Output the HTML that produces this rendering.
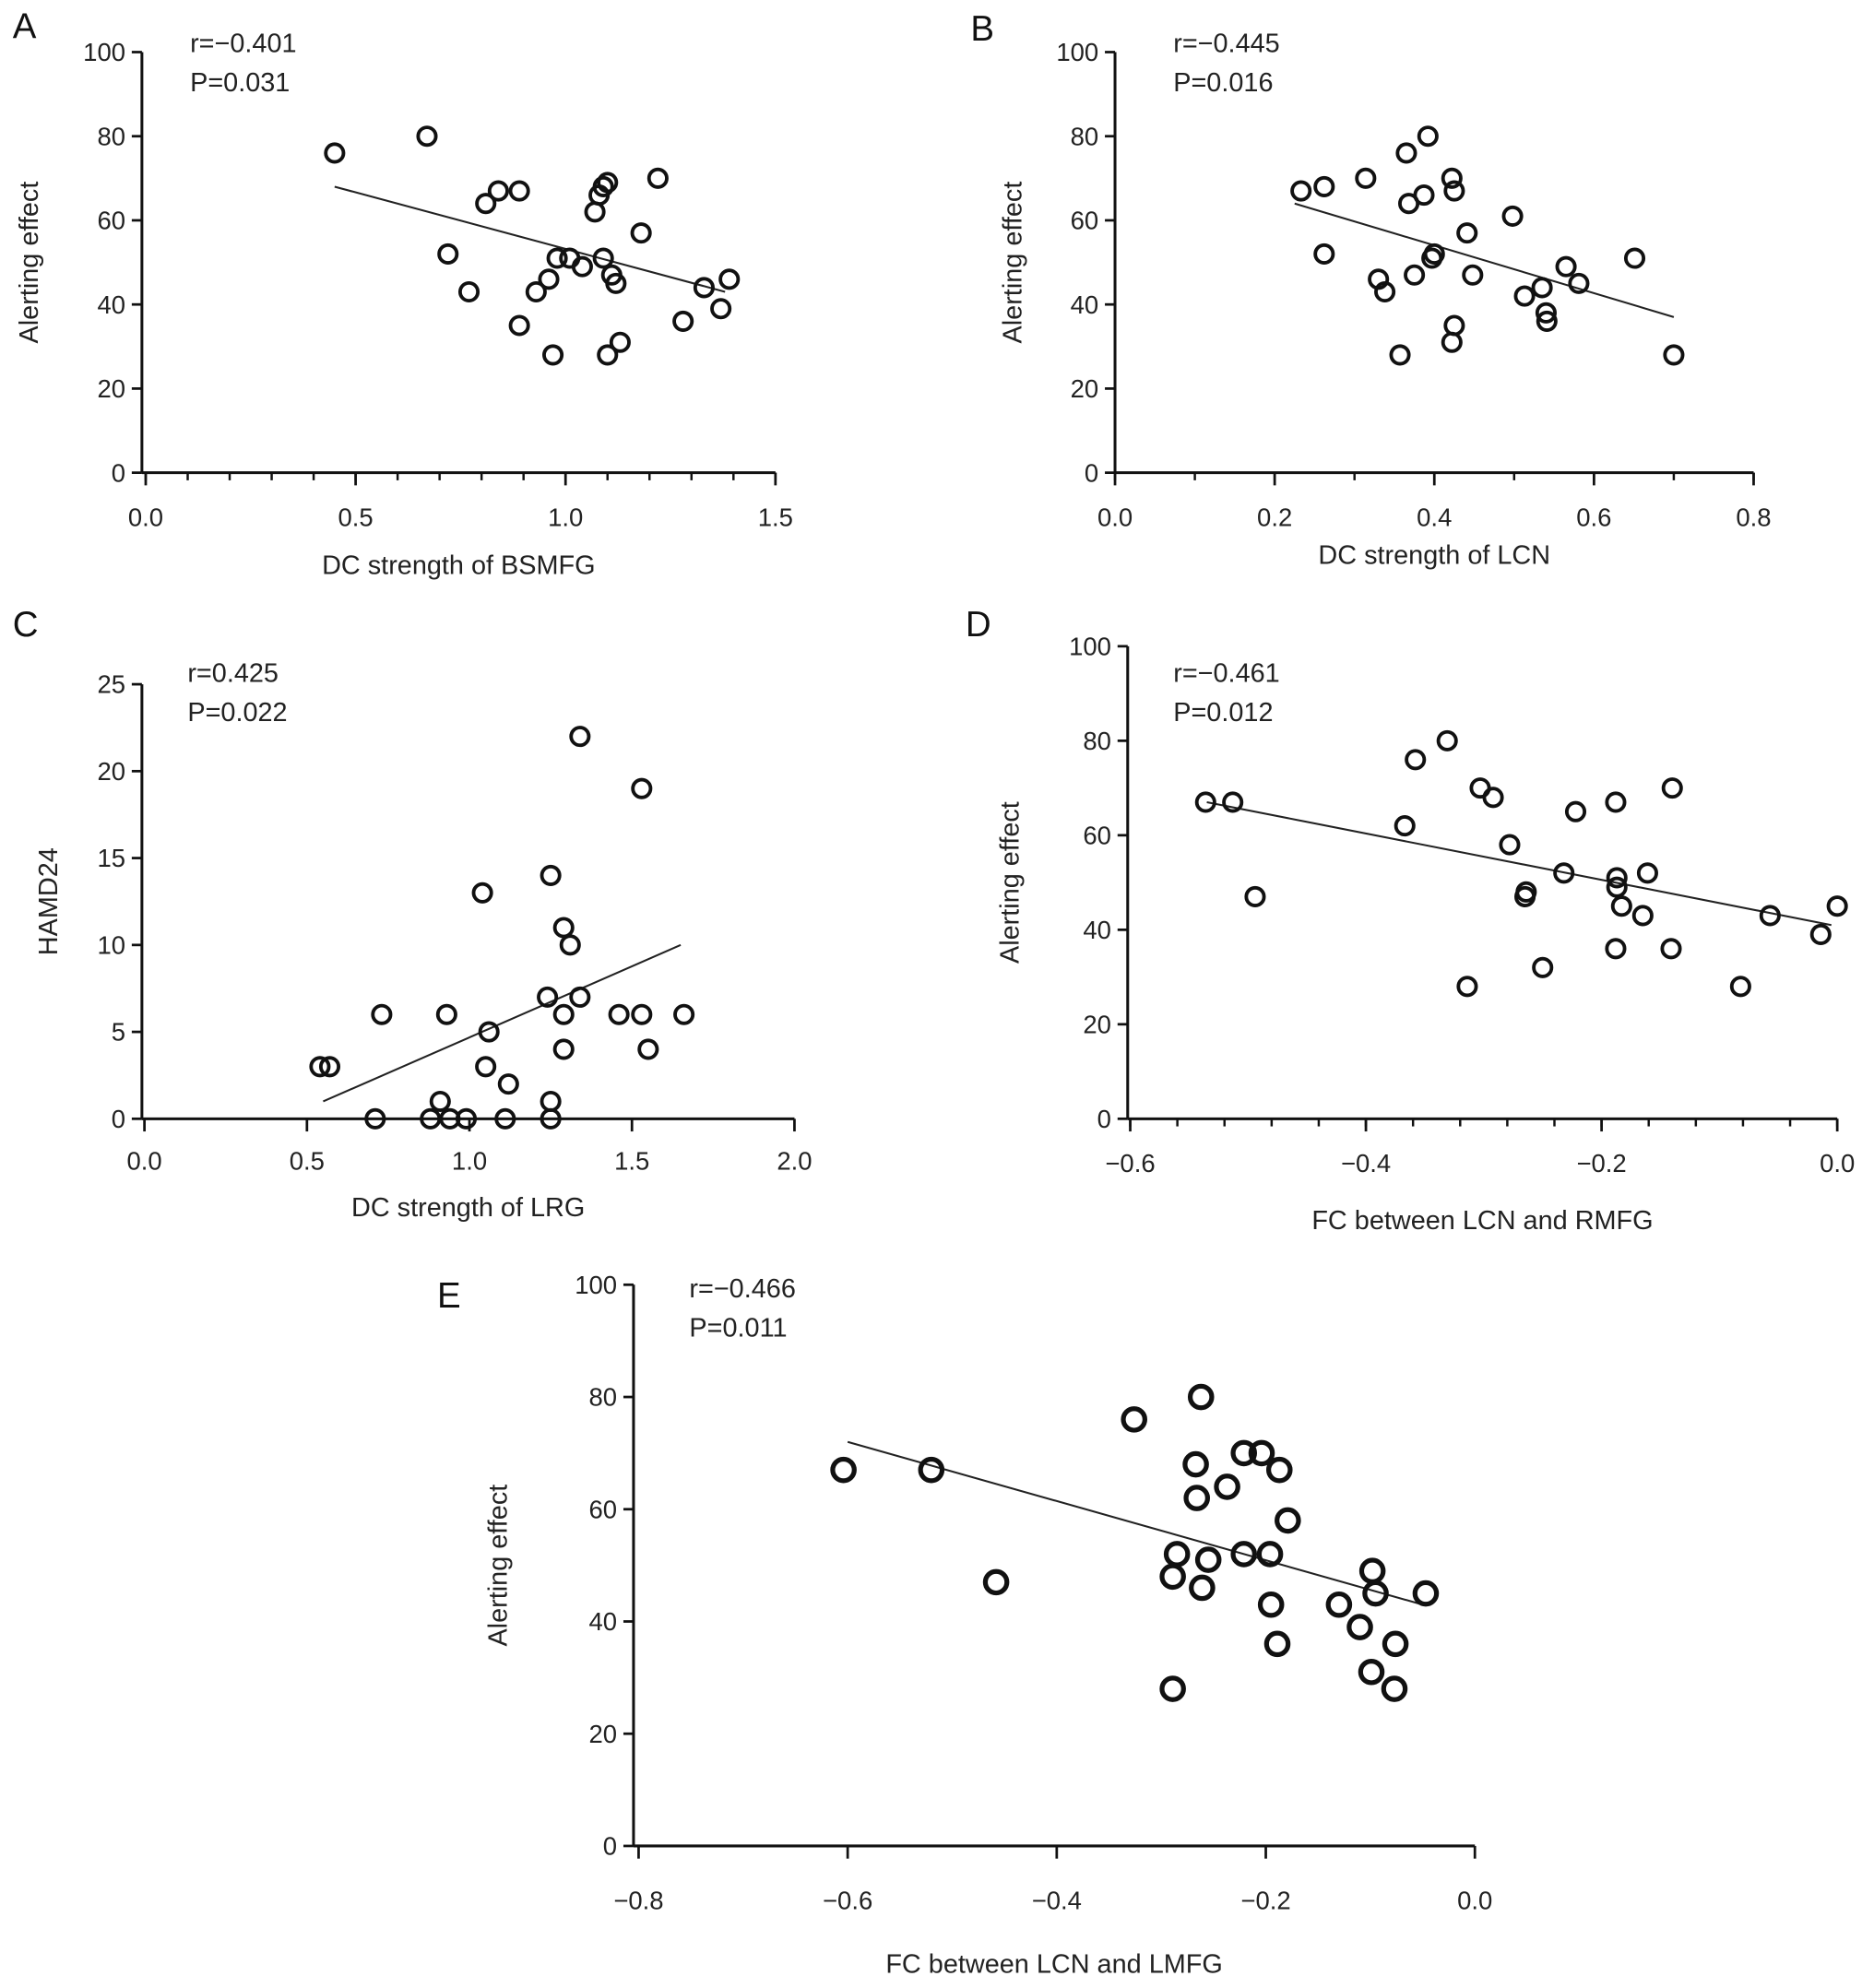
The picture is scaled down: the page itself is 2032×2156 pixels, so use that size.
<!DOCTYPE html>
<html><head><meta charset="utf-8">
<style>
html,body{margin:0;padding:0;background:#fff;}
svg{display:block;font-family:"Liberation Sans",Arial,sans-serif;}
</style></head>
<body>
<svg id="fig" width="2032" height="2156" viewBox="0 0 1479 1569" xmlns="http://www.w3.org/2000/svg"></svg>
<script>
// Panel A data
const aX=[0.45,0.67,0.72,0.77,0.81,0.84,0.89,0.89,0.93,0.96,0.97,0.98,1.01,1.04,1.07,1.08,1.09,1.10,1.09,1.10,1.11,1.12,1.13,1.18,1.22,1.28,1.33,1.37,1.39];
const aY=[76,80,52,43,64,67,67,35,43,46,28,51,51,49,62,66,68,69,51,28,47,45,31,57,70,36,44,39,46];
const aFitX=[0.45,1.38], aFitY=[68,43];
const aXTicks=["0.0","0.5","1.0","1.5"], aYTicks=["0","20","40","60","80","100"];
// Panel B data
const bX=[0.233,0.262,0.262,0.314,0.33,0.338,0.365,0.368,0.392,0.387,0.375,0.397,0.4,0.357,0.422,0.425,0.441,0.448,0.425,0.422,0.498,0.513,0.535,0.54,0.541,0.565,0.581,0.651,0.7];
const bY=[67,68,52,70,46,43,76,64,80,66,47,51,52,28,70,67,57,47,35,31,61,42,44,38,36,49,45,51,28];
const bFitX=[0.225,0.7], bFitY=[64,37];
const bXTicks=["0.0","0.2","0.4","0.6","0.8"], bYTicks=["0","20","40","60","80","100"];
// Panel C data
const cX=[0.54,0.57,0.71,0.73,0.88,0.91,0.93,0.94,0.99,1.05,1.06,1.04,1.11,1.12,1.24,1.25,1.25,1.25,1.29,1.29,1.29,1.31,1.34,1.34,1.46,1.53,1.53,1.55,1.66];
const cY=[3,3,0,6,0,1,6,0,0,3,5,13,0,2,7,1,0,14,11,6,4,10,7,22,6,6,19,4,6];
const cFitX=[0.55,1.65], cFitY=[1,10];
const cXTicks=["0.0","0.5","1.0","1.5","2.0"], cYTicks=["0","5","10","15","20","25"];
// Panel D data
const dX=[-0.536,-0.513,-0.494,-0.367,-0.358,-0.331,-0.303,-0.292,-0.314,-0.278,-0.265,-0.264,-0.25,-0.232,-0.222,-0.188,-0.187,-0.187,-0.183,-0.188,-0.165,-0.161,-0.141,-0.14,-0.082,-0.057,-0.014,0.0];
const dY=[67,67,47,62,76,80,70,68,28,58,47,48,32,52,65,67,51,49,45,36,43,52,36,70,28,43,39,45];
const dFitX=[-0.535,-0.005], dFitY=[67,41];
const dXTicks=["\u22120.6","\u22120.4","\u22120.2","0.0"], dYTicks=["0","20","40","60","80","100"];
// Panel E data
const eX=[-0.604,-0.52,-0.458,-0.326,-0.289,-0.285,-0.289,-0.267,-0.266,-0.262,-0.261,-0.255,-0.237,-0.221,-0.221,-0.204,-0.196,-0.187,-0.195,-0.189,-0.179,-0.13,-0.11,-0.099,-0.098,-0.095,-0.076,-0.077,-0.047];
const eY=[67,67,47,76,28,52,48,68,62,80,46,51,64,70,52,70,52,67,43,36,58,43,39,31,49,45,36,28,45];
const eFitX=[-0.6,-0.05], eFitY=[72,43];
const eXTicks=["\u22120.8","\u22120.6","\u22120.4","\u22120.2","0.0"], eYTicks=["0","20","40","60","80","100"];

const NS="http://www.w3.org/2000/svg";
const svg=document.getElementById('fig');
function mk(tag,attrs,parent,text){const e=document.createElementNS(NS,tag);for(const k in attrs)e.setAttribute(k,attrs[k]);if(text!==undefined)e.textContent=text;(parent||svg).appendChild(e);return e;}

function panel(p){
  const g=mk('g',{});
  
  
  const sx=v=>p.px0+(v-p.xmin)/(p.xmax-p.xmin)*(p.px1-p.px0);
  const sy=v=>p.py0-(v-p.ymin)/(p.ymax-p.ymin)*(p.py0-p.py1);
  const t1=mk('text',{x:p.lx,y:p.ly,'font-size':28,fill:'#111'},g,p.id);
  
  
  const ya=mk('line',{x1:p.ax,y1:p.py0,x2:p.ax,y2:p.py1,stroke:'#111','stroke-width':2.2},g);
  
  
  const xa=mk('line',{x1:p.ax,y1:p.py0,x2:p.px1,y2:p.py0,stroke:'#111','stroke-width':2.2},g);
  
  
  p.yt.forEach((l,i)=>{const v=p.ymin+i*(p.ymax-p.ymin)/(p.yt.length-1);const y=sy(v);
    mk('line',{x1:p.ax-8,y1:y,x2:p.ax,y2:y,stroke:'#111','stroke-width':2},g);
    const t=mk('text',{x:p.ax-13,y:y+7,'font-size':20,'text-anchor':'end',fill:'#222'},g,l);
    
    });
  p.xt.forEach((l,i)=>{const v=p.xmin+i*(p.xmax-p.xmin)/(p.xt.length-1);const x=sx(v);
    mk('line',{x1:x,y1:p.py0,x2:x,y2:p.py0+10,stroke:'#111','stroke-width':2},g);
    const t=mk('text',{x:x,y:p.py0+p.xtl,'font-size':20,'text-anchor':'middle',fill:'#222'},g,l);
    
    });
  if(p.minor){const n=(p.xt.length-1)*p.minor;for(let i=0;i<=n;i++){const x=sx(p.xmin+i*(p.xmax-p.xmin)/n);
    mk('line',{x1:x,y1:p.py0,x2:x,y2:p.py0+6,stroke:'#111','stroke-width':1.8},g);}}
  const xl=mk('text',{x:(p.ax+p.px1)/2,y:p.xly,'font-size':21,'text-anchor':'middle',fill:'#222'},g,p.xlab);
  
  
  const yl=mk('text',{x:0,y:0,'font-size':21,'text-anchor':'middle',fill:'#222',transform:`translate(${p.ylx},${(p.py0+p.py1)/2}) rotate(-90)`},g,p.ylab);
  
  
  const r=mk('text',{x:p.sx,y:p.sy,'font-size':21,fill:'#222'},g,p.r);
  
  
  const pv=mk('text',{x:p.sx,y:p.sy+31,'font-size':21,fill:'#222'},g,p.p);
  
  
  const fl=mk('line',{x1:sx(p.fx[0]),y1:sy(p.fy[0]),x2:sx(p.fx[1]),y2:sy(p.fy[1]),stroke:'#222','stroke-width':1.5},g);
  
  
  p.X.forEach((v,i)=>{const c=mk('circle',{cx:sx(v),cy:sy(p.Y[i]),r:p.cr,fill:'none',stroke:'#111','stroke-width':p.cw},g);
    
    });
}

panel({id:'A',lx:10,ly:30,ax:112,px0:115,px1:612,xmin:0,xmax:1.5,py0:373,py1:41,ymin:0,ymax:100,xt:aXTicks,yt:aYTicks,minor:5,xtl:42,xly:453,ylx:30,xlab:'DC strength of BSMFG',ylab:'Alerting effect',sx:150,sy:41,r:'r=\u22120.401',p:'P=0.031',X:aX,Y:aY,fx:aFitX,fy:aFitY,cr:7,cw:2.8});
panel({id:'B',lx:766,ly:32,ax:880,px0:880,px1:1384,xmin:0,xmax:0.8,py0:373,py1:41,ymin:0,ymax:100,xt:bXTicks,yt:bYTicks,minor:2,xtl:42,xly:445,ylx:806,xlab:'DC strength of LCN',ylab:'Alerting effect',sx:926,sy:41,r:'r=\u22120.445',p:'P=0.016',X:bX,Y:bY,fx:bFitX,fy:bFitY,cr:7,cw:2.8});
panel({id:'C',lx:10,ly:502,ax:112,px0:114,px1:627,xmin:0,xmax:2,py0:883,py1:540,ymin:0,ymax:25,xt:cXTicks,yt:cYTicks,minor:0,xtl:40,xly:960,ylx:45,xlab:'DC strength of LRG',ylab:'HAMD24',sx:148,sy:538,r:'r=0.425',p:'P=0.022',X:cX,Y:cY,fx:cFitX,fy:cFitY,cr:7,cw:2.8});
panel({id:'D',lx:762,ly:502,ax:890,px0:892,px1:1450,xmin:-0.6,xmax:0,py0:883,py1:510,ymin:0,ymax:100,xt:dXTicks,yt:dYTicks,minor:5,xtl:42,xly:970,ylx:804,xlab:'FC between LCN and RMFG',ylab:'Alerting effect',sx:926,sy:538,r:'r=\u22120.461',p:'P=0.012',X:dX,Y:dY,fx:dFitX,fy:dFitY,cr:7,cw:2.8});
panel({id:'E',lx:345,ly:1032,ax:500,px0:504,px1:1164,xmin:-0.8,xmax:0,py0:1457,py1:1014,ymin:0,ymax:100,xt:eXTicks,yt:eYTicks,minor:0,xtl:50,xly:1557,ylx:400,xlab:'FC between LCN and LMFG',ylab:'Alerting effect',sx:544,sy:1024,r:'r=\u22120.466',p:'P=0.011',X:eX,Y:eY,fx:eFitX,fy:eFitY,cr:8.5,cw:3.8});
</script>
</body></html>
